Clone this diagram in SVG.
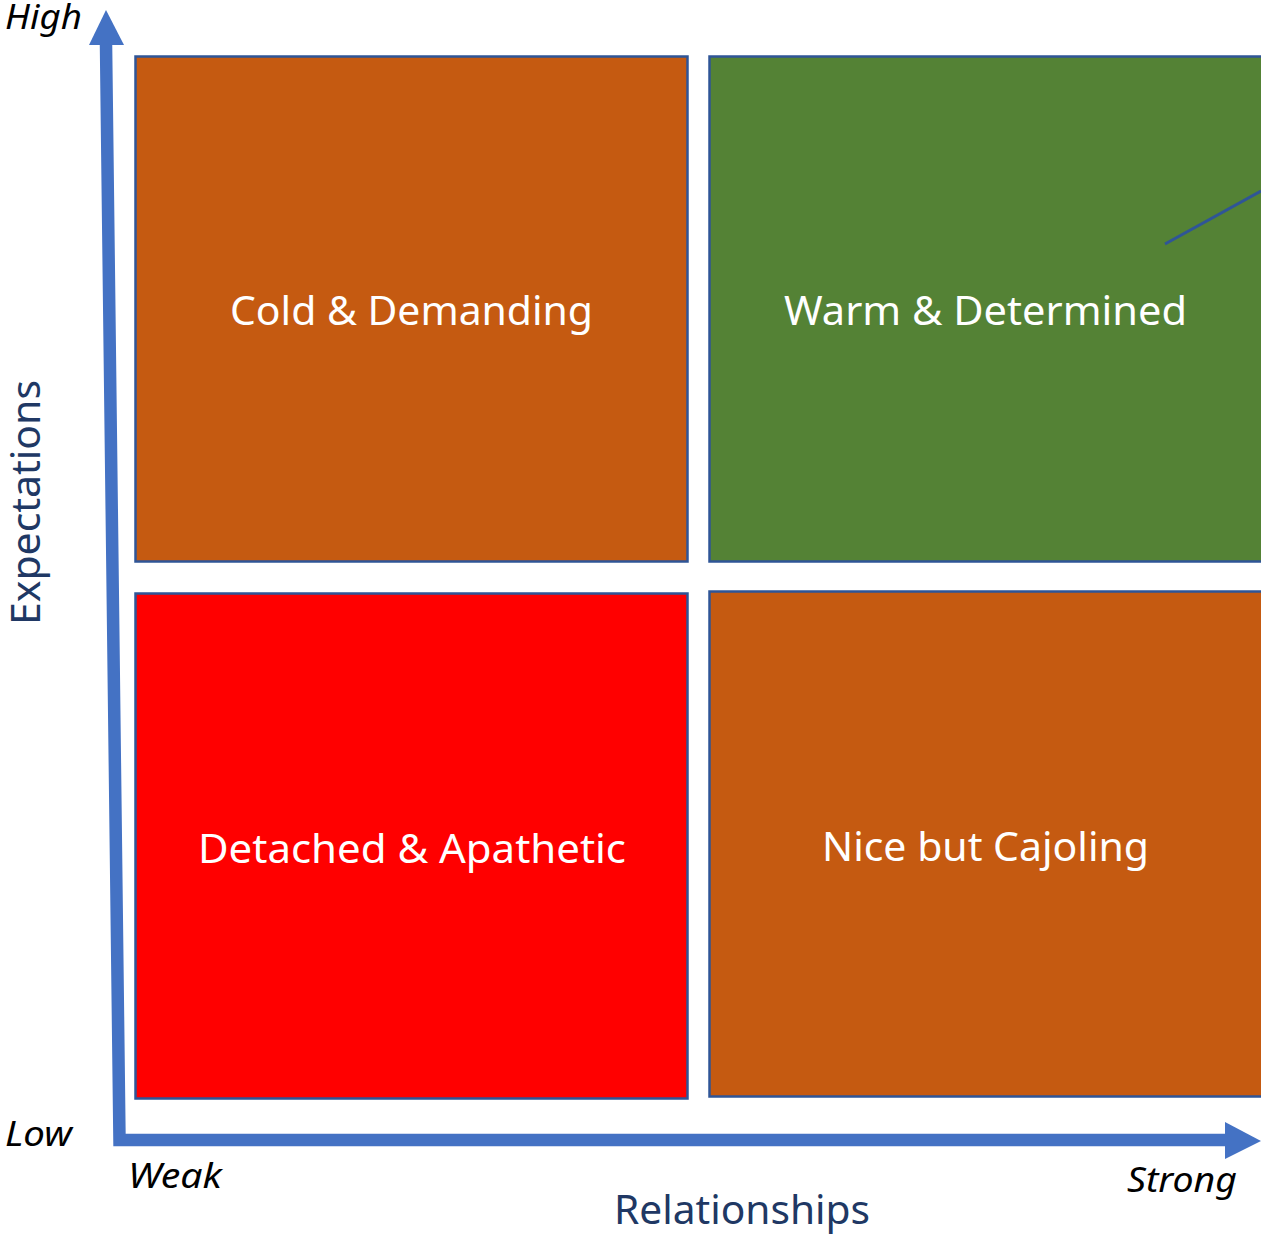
<svg xmlns="http://www.w3.org/2000/svg" width="1261" height="1235" viewBox="0 0 1261 1235">
<style>
.box{stroke:#2F5597;stroke-width:2.5}
.orange{fill:#C55A11}
.green{fill:#548235}
.red{fill:#FF0000}
.lbl{font-family:"Noto Sans","Open Sans",sans-serif;font-size:40px;fill:#FFFFFF;text-anchor:middle}
.ax{font-family:"Noto Sans","Open Sans",sans-serif;font-size:34px;font-style:italic;fill:#000000}
.title{font-family:"Noto Sans","Open Sans",sans-serif;font-size:40px;fill:#203864}
.axis{fill:none;stroke:#4472C4;stroke-width:12.5;stroke-linejoin:miter}
.head{fill:#4472C4}
</style>
<rect width="1261" height="1235" fill="#FFFFFF"/>
<g id="cold">
<rect class="box orange" x="135.5" y="56.5" width="552" height="505"/>
<text class="lbl" x="411.5" y="325" textLength="363" lengthAdjust="spacingAndGlyphs">Cold &amp; Demanding</text>
</g>
<g id="warm">
<rect class="box green" x="709.5" y="56.5" width="553" height="505"/>
<line x1="1165" y1="244" x2="1261" y2="191" stroke="#2F5597" stroke-width="3"/>
<text class="lbl" x="985.5" y="325" textLength="403" lengthAdjust="spacingAndGlyphs">Warm &amp; Determined</text>
</g>
<g id="detached">
<rect class="box red" x="135.5" y="593.5" width="552" height="505"/>
<text class="lbl" x="412" y="863" textLength="428" lengthAdjust="spacingAndGlyphs">Detached &amp; Apathetic</text>
</g>
<g id="nice">
<rect class="box orange" x="709.5" y="591.5" width="553" height="505"/>
<text class="lbl" x="985.5" y="861" textLength="327" lengthAdjust="spacingAndGlyphs">Nice but Cajoling</text>
</g>
<g id="connectors">
<path class="axis" d="M106,44 L119.5,1140 L1226,1140"/>
<polygon class="head" points="89,45 106,10 124,45"/>
<polygon class="head" points="1225,1122 1261,1141 1225,1159"/>
</g>
<g id="labels">
<text class="ax" x="5" y="29" textLength="77" lengthAdjust="spacingAndGlyphs">High</text>
<text class="ax" x="5" y="1146" textLength="67" lengthAdjust="spacingAndGlyphs">Low</text>
<text class="ax" x="128" y="1188" textLength="94" lengthAdjust="spacingAndGlyphs">Weak</text>
<text class="ax" x="1127" y="1192" textLength="110" lengthAdjust="spacingAndGlyphs">Strong</text>
<text class="title" x="614" y="1224" textLength="256" lengthAdjust="spacingAndGlyphs">Relationships</text>
<text class="title" transform="translate(40,625) rotate(-90)" x="0" y="0" textLength="245" lengthAdjust="spacingAndGlyphs">Expectations</text>
</g>
</svg>
